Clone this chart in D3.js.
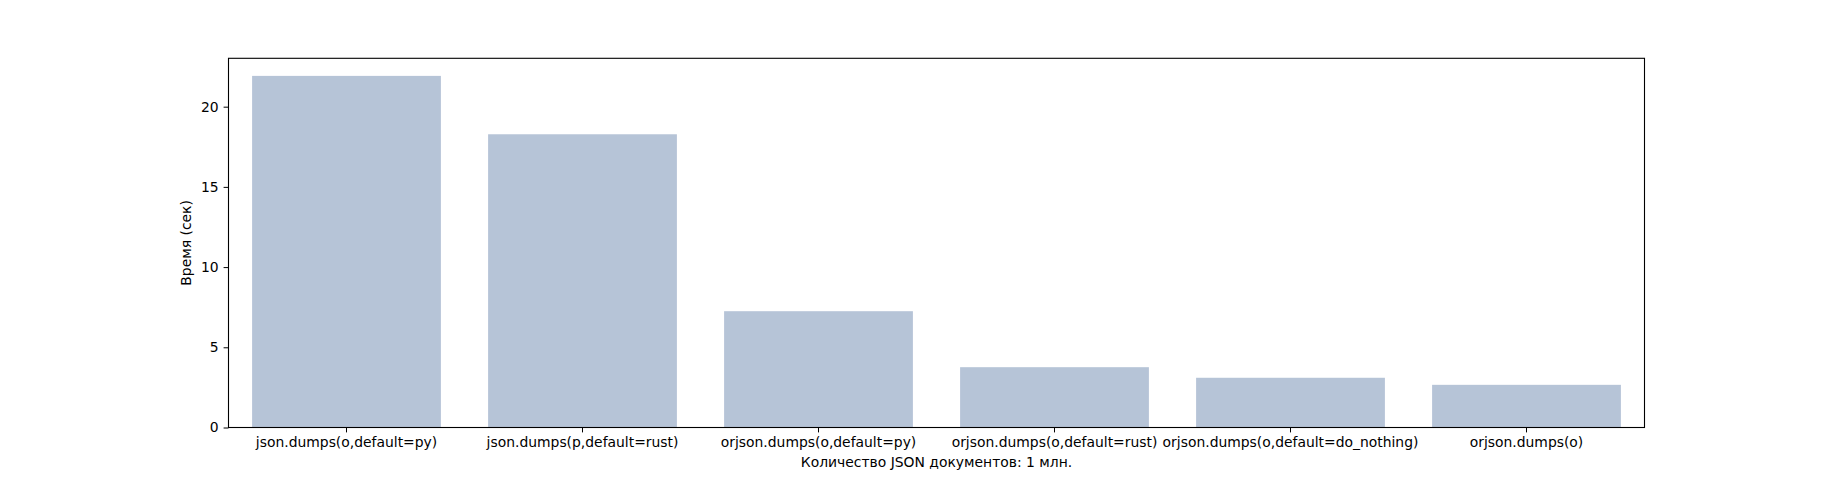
<!DOCTYPE html>
<html><head><meta charset="utf-8">
<script src="https://cdn.jsdelivr.net/npm/d3@7"></script>
<style>body{margin:0;background:#fff}svg{display:block}text{font-family:"DejaVu Sans",sans-serif;}</style>
</head><body>
<svg id="c" width="1827" height="480"></svg>
<script>
const categories = ["json.dumps(o,default=py)","json.dumps(p,default=rust)","orjson.dumps(o,default=py)","orjson.dumps(o,default=rust)","orjson.dumps(o,default=do_nothing)","orjson.dumps(o)"];
const values = [21.92, 18.28, 7.25, 3.76, 3.10, 2.66];
const yTicks = [0, 5, 10, 15, 20];
const xLabel = "Количество JSON документов: 1 млн.";
const yLabel = "Время (сек)";

const m = {left: 228.5, right: 1644.5, top: 58.3, bottom: 427.5};
const svg = d3.select("#c");
const x = d3.scaleBand().domain(categories).range([m.left, m.right]).paddingInner(0.2).paddingOuter(0.1);
const y = d3.scaleLinear().domain([0, d3.max(values) * 1.05]).range([m.bottom, m.top]);

svg.append("g").selectAll("rect").data(values).join("rect")
  .attr("x", (d, i) => x(categories[i]))
  .attr("width", x.bandwidth())
  .attr("y", d => y(d))
  .attr("height", d => y(0) - y(d))
  .attr("fill", "#b6c4d7");

const fs = "13.9px";
const gy = svg.append("g").attr("transform", `translate(${m.left},0)`)
  .call(d3.axisLeft(y).tickValues(yTicks).tickSize(4.9).tickPadding(4.9));
const gx = svg.append("g").attr("transform", `translate(0,${m.bottom})`)
  .call(d3.axisBottom(x).tickSize(4.9).tickPadding(4.9));
[gx, gy].forEach(g => {
  g.select(".domain").remove();
  g.selectAll("line").attr("stroke", "#000").attr("stroke-width", 1);
  g.selectAll("text").attr("font-size", fs).attr("fill", "#000").attr("font-family", "DejaVu Sans");
});
svg.append("rect").attr("x", m.left).attr("y", m.top).attr("width", m.right - m.left).attr("height", m.bottom - m.top)
  .attr("fill", "none").attr("stroke", "#000").attr("stroke-width", 1.1);

svg.append("text").attr("x", (m.left + m.right) / 2).attr("y", 467)
  .attr("text-anchor", "middle").attr("font-size", fs).text(xLabel);
svg.append("text").attr("transform", `translate(191,${(m.top + m.bottom) / 2}) rotate(-90)`)
  .attr("text-anchor", "middle").attr("font-size", fs).text(yLabel);
</script>
</body></html>
